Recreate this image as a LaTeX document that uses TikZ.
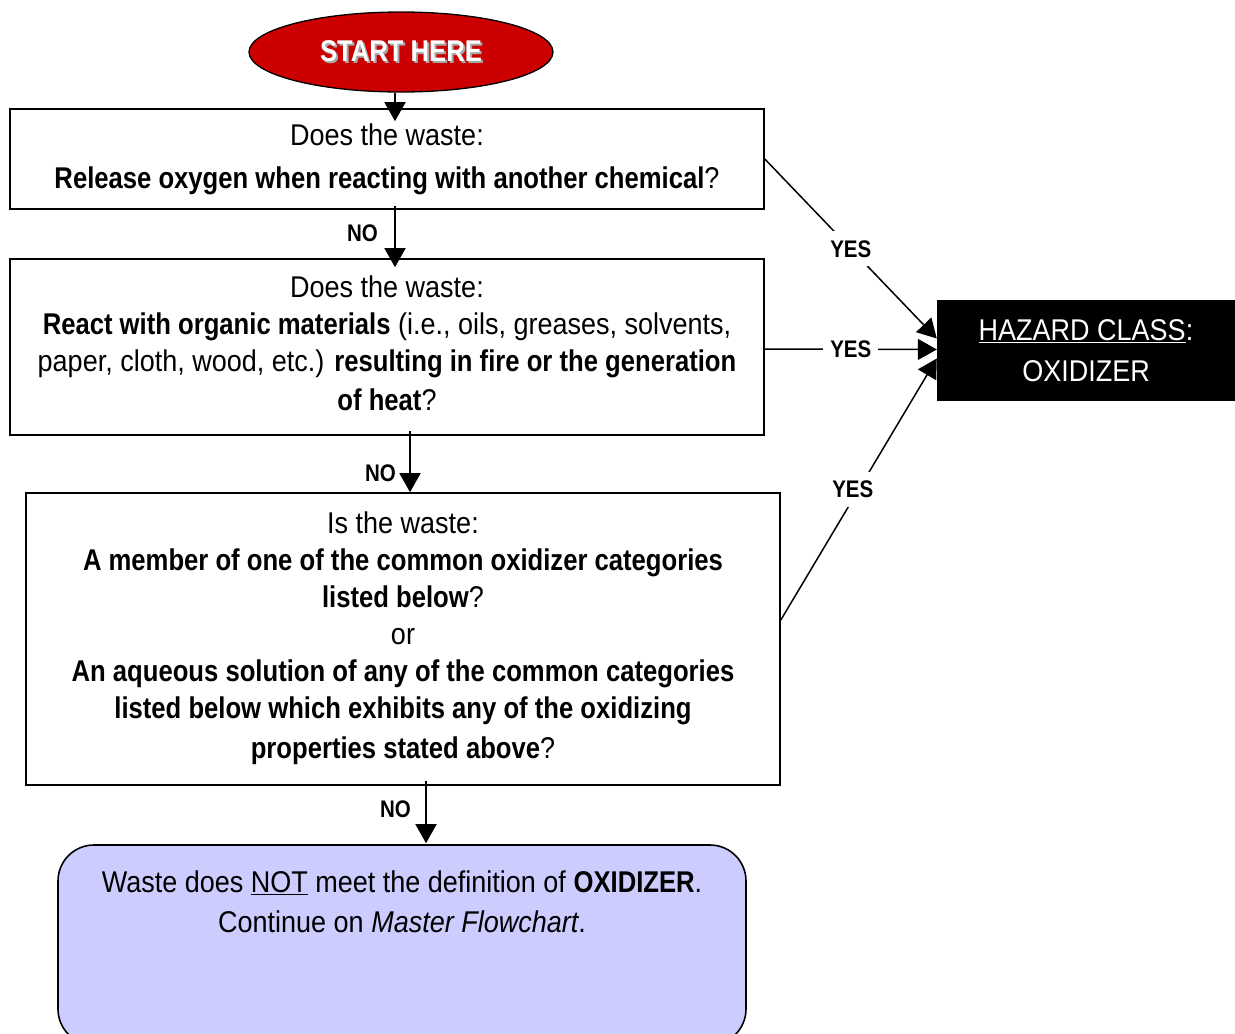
\documentclass[tikz,border=0pt]{standalone}
\usepackage{fontspec}
\setmainfont{Liberation Sans}[FakeStretch=0.9, BoldFeatures={FakeStretch=0.855}]
\usetikzlibrary{arrows.meta,calc,shapes.geometric}
\definecolor{startred}{HTML}{CC0000}
\definecolor{finalblue}{HTML}{CCCCFF}
\begin{document}
\begin{tikzpicture}[x=1pt,y=-1pt,
  qbox/.style={draw, line width=1.6pt, align=center, inner sep=0pt,
    font=\fontsize{30}{37}\selectfont},
  arr/.style={line width=1.5pt, -{Triangle[length=19pt,width=21pt]}},
  nolab/.style={font=\bfseries\fontsize{24}{28}\selectfont, inner sep=0pt},
  yeslab/.style={font=\bfseries\fontsize{24}{28}\selectfont, fill=white, inner xsep=7pt, inner ysep=9pt},
]
\clip (0,0) rectangle (1235,1034);
\fill[white] (0,0) rectangle (1235,1034);

% start ellipse
\node[ellipse, draw, fill=startred, line width=1.3pt, minimum width=304, minimum height=80,
  font=\bfseries\fontsize{30}{36}\selectfont] (start) at (401,52)
  {\rlap{\hspace{2pt}\raisebox{-2pt}{\color{black!35}START HERE}}\color{white}START HERE};

% question boxes
\node[qbox, minimum width=754, minimum height=100] (q1) at (387,159)
  {Does the waste:\\[6pt]\textbf{Release oxygen when reacting with another chemical}?};
\node[qbox, minimum width=754, minimum height=176] (q2) at (387,347)
  {Does the waste:\\
   \textbf{React with organic materials} (i.e., oils, greases, solvents,\\
   paper, cloth, wood, etc.) \textbf{resulting in fire or the generation}\\[2pt]
   \textbf{of heat}?\\[-29pt]};
\node[qbox, minimum width=754, minimum height=292] (q3) at (403,639)
  {Is the waste:\\
   \textbf{A member of one of the common oxidizer categories}\\
   \textbf{listed below}?\\
   or\\
   \textbf{An aqueous solution of any of the common categories}\\
   \textbf{listed below which exhibits any of the oxidizing}\\[3pt]
   \textbf{properties stated above}?\\[-30pt]};

% final box
\node[draw, line width=1.6pt, fill=finalblue, rounded corners=36pt,
  minimum width=688, minimum height=200] (final) at (402,945) {};
\node[align=center, font=\fontsize{30}{40}\selectfont, inner sep=0pt] (finaltext) at (402,902)
  {Waste does \underline{NOT} meet the definition of \textbf{OXIDIZER}.\\
   Continue on \textit{Master Flowchart}.};

% hazard box
\node[fill=black, text=white, align=center, minimum width=298, minimum height=101,
  font=\fontsize{30}{41}\selectfont, inner sep=0pt] (haz) at (1086,350.5)
  {\underline{HAZARD CLASS}:\\OXIDIZER};

% NO arrows
\draw[arr] ($(start.south)+(-6,0)$) -- ($(q1.north)+(8,13)$);
\draw[arr] ($(q1.south)+(8,-4)$) coordinate (a1) -- ($(a1 |- q2.north)+(0,9)$);
\draw[arr] ($(q2.south)+(23,-5)$) coordinate (a2) -- (a2 |- q3.north);
\draw[arr] ($(q3.south)+(23,-5)$) coordinate (a3) -- ($(a3 |- final.north)+(0,-1)$);

\path (a1) ++(-17,27) node[nolab, anchor=east] (no1) {NO};
\path (a2) ++(-14,42) node[nolab, anchor=east] (no2) {NO};
\path (a3) ++(-15,28) node[nolab, anchor=east] (no3) {NO};

% YES arrows
\draw[arr] (q1.east) -- node[yeslab] (yes1) {YES} ($(haz.west)+(0,-12)$);
\draw[arr] ($(q2.east)+(0,2)$) -- node[yeslab] (yes2) {YES} ($(haz.west)+(0,-1)$);
\draw[arr] ($(q3.east)+(0,-19)$) -- node[yeslab, xshift=-6pt] (yes3) {YES} ($(haz.west)+(0,8)$);
\end{tikzpicture}
\end{document}
